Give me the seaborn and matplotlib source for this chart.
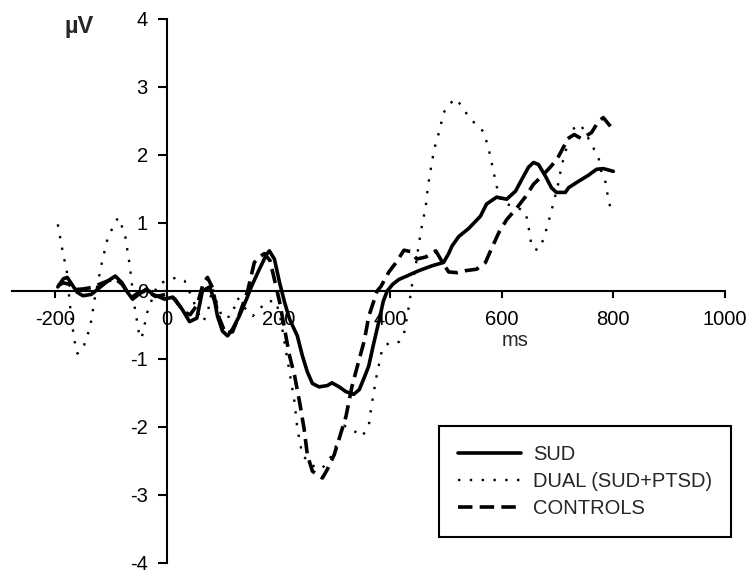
import numpy as np
import pandas as pd
import matplotlib
matplotlib.use("Agg")
import matplotlib.pyplot as plt
import seaborn as sns

# --- data (ms, µV) ---
sud_ms = [-195, -185, -178, -170, -160, -150, -135, -120, -105, -92, -80, -70, -61, -50, -36, -25, -15, -4,
          11, 27, 41, 54, 64, 77, 86, 91, 100, 109, 118, 130, 143, 152, 166, 179, 184, 193, 202, 211, 220,
          234, 243, 252, 261, 273, 288, 296, 309, 321, 335, 345, 355, 362, 370, 380, 388, 395, 405, 416,
          430, 452, 475, 496, 505, 511, 523, 541, 562, 573, 591, 609, 625, 636, 648, 657, 666, 679, 689,
          698, 714, 720, 737, 755, 770, 782, 800]
sud_uv = [0.06, 0.18, 0.2, 0.1, -0.02, -0.07, -0.05, 0.05, 0.15, 0.22, 0.12, -0.02, -0.12, -0.05, 0.03, -0.05, -0.08, -0.12,
          -0.09, -0.26, -0.45, -0.4, 0.0, 0.06, -0.15, -0.37, -0.59, -0.66, -0.56, -0.37, -0.12, 0.07, 0.32, 0.54, 0.59, 0.47, 0.13, -0.16, -0.41,
          -0.66, -0.95, -1.19, -1.36, -1.41, -1.39, -1.35, -1.41, -1.48, -1.52, -1.45, -1.25, -1.1, -0.8, -0.45, -0.15, 0.0, 0.1, 0.17,
          0.22, 0.3, 0.37, 0.42, 0.55, 0.66, 0.8, 0.92, 1.1, 1.28, 1.38, 1.35, 1.47, 1.64, 1.82, 1.89, 1.86, 1.68, 1.52,
          1.45, 1.45, 1.52, 1.61, 1.7, 1.79, 1.8, 1.76]

dual_ms = [-195, -186, -179, -173, -166, -160, -150, -137, -129, -116, -105, -87, -75, -66, -58, -50, -45, -34, -16,
           0, 18, 32, 45, 59, 66, 75, 82, 89, 100, 116, 127, 140, 154, 168, 180, 196, 205, 211, 220, 229, 234,
           243, 259, 277, 290, 300, 318, 336, 350, 362, 366, 375, 386, 400, 416, 425, 434, 439, 446, 452, 457,
           464, 468, 473, 479, 488, 496, 505, 518, 529, 541, 555, 568, 577, 583, 591, 600, 612, 630, 643, 648,
           654, 665, 675, 684, 693, 702, 707, 716, 725, 741, 752, 761, 773, 779, 786, 791, 797]
dual_uv = [0.98, 0.57, 0.3, -0.22, -0.7, -0.92, -0.85, -0.53, -0.12, 0.42, 0.8, 1.08, 0.85, 0.37, -0.2, -0.6, -0.7, -0.29, 0.1,
           0.15, 0.2, 0.15, -0.09, -0.37, -0.45, -0.25, 0.05, -0.15, -0.4, -0.37, -0.1, -0.25, -0.37, -0.25, -0.15, -0.15, -0.45, -0.75, -1.19, -1.63, -2.02,
           -2.41, -2.56, -2.62, -2.5, -2.35, -1.98, -2.06, -2.14, -1.98, -1.73, -1.29, -0.85, -0.75, -0.75, -0.63, -0.22, 0.07, 0.37, 0.71, 0.95,
           1.24, 1.54, 1.79, 2.08, 2.34, 2.62, 2.74, 2.83, 2.71, 2.56, 2.44, 2.34, 2.08, 1.85, 1.54, 1.3, 1.27, 1.22, 1.15, 0.95,
           0.64, 0.6, 0.76, 1.02, 1.3, 1.6, 1.83, 2.1, 2.37, 2.45, 2.3, 2.15, 1.98, 1.74, 1.6, 1.35, 1.15]

ctrl_ms = [-195, -185, -175, -165, -150, -135, -120, -105, -92, -80, -70, -60, -50, -36, -20, 0, 15, 30, 42, 55,
           65, 73, 82, 92, 105, 118, 130, 145, 157, 166, 175, 185, 195, 202, 211, 220, 229, 238, 246, 252, 261,
           279, 288, 300, 309, 321, 332, 345, 354, 362, 377, 384, 398, 411, 425, 437, 448, 464, 482, 492, 505,
           520, 536, 555, 571, 580, 595, 609, 625, 643, 657, 671, 688, 700, 711, 720, 730, 743, 761, 773, 782,
           795, 800]
ctrl_uv = [0.08, 0.12, 0.1, 0.02, 0.03, 0.05, 0.1, 0.15, 0.18, 0.1, -0.02, -0.08, -0.02, 0.0, -0.08, -0.05, -0.12, -0.3, -0.35, -0.2,
           0.1, 0.2, 0.05, -0.35, -0.62, -0.6, -0.35, 0.0, 0.42, 0.5, 0.55, 0.45, 0.1, -0.15, -0.55, -0.95, -1.24, -1.63, -2.02, -2.41, -2.65,
           -2.75, -2.62, -2.41, -2.17, -1.85, -1.4, -1.0, -0.73, -0.37, 0.0, 0.07, 0.28, 0.42, 0.6, 0.58, 0.47, 0.5, 0.59, 0.45, 0.28,
           0.27, 0.3, 0.32, 0.42, 0.59, 0.86, 1.05, 1.2, 1.39, 1.57, 1.68, 1.83, 1.95, 2.12, 2.25, 2.3, 2.24, 2.33, 2.49, 2.55,
           2.42, 2.38]

x_ticks = [-200, 0, 200, 400, 600, 800, 1000]
y_ticks = [-4, -3, -2, -1, 0, 1, 2, 3, 4]

sns.set_theme(style="ticks")
plt.rcParams["font.family"] = ["Liberation Sans", "DejaVu Sans"]
plt.rcParams["axes.unicode_minus"] = False

FS = 14.5
W, H = 752, 574
fig = plt.figure(figsize=(W / 100, H / 100), dpi=100)
# axes box: x from -277 ms (px 12) to 1000 ms (px 725), y from 4 (px 19) to -4 (px 563)
ax = fig.add_axes([12 / W, 1 - 563 / H, (725 - 12) / W, (563 - 19) / H])

sns.lineplot(x=sud_ms, y=sud_uv, ax=ax, color="black", lw=2.6, sort=False,
             estimator=None, label="SUD")
sns.lineplot(x=dual_ms, y=dual_uv, ax=ax, color="black", lw=1.7, sort=False,
             estimator=None, linestyle=(0, (1, 4)), label="DUAL (SUD+PTSD)")
sns.lineplot(x=ctrl_ms, y=ctrl_uv, ax=ax, color="black", lw=2.6, sort=False,
             estimator=None, linestyle=(0, (4, 2)), label="CONTROLS")

ax.set_xlim(-277, 1000)
ax.set_ylim(-4, 4)
ax.set_xticks(x_ticks)
ax.set_yticks(y_ticks)
ax.set_xlabel("")
ax.set_ylabel("")

for s in ["top", "right"]:
    ax.spines[s].set_visible(False)
ax.spines["left"].set_position(("data", 0))
ax.spines["bottom"].set_position(("data", 0))
for s in ["left", "bottom"]:
    ax.spines[s].set_linewidth(1.5)
    ax.spines[s].set_color("black")

ax.tick_params(axis="y", direction="out", length=6.5, width=1.5, pad=7,
               labelsize=FS, colors="black")
ax.tick_params(axis="x", direction="out", length=5, width=1.5, pad=9,
               labelsize=FS, colors="black")

fig.text(79 / W, 1 - 27 / H, "µV", fontsize=17, fontweight="bold",
         ha="center", va="center")
fig.text(515 / W, 1 - 340 / H, "ms", fontsize=FS, ha="center", va="center")

leg = ax.legend(loc="upper left", bbox_to_anchor=(439 / W, 1 - 426 / H),
                bbox_transform=fig.transFigure, fontsize=FS, frameon=True,
                fancybox=False, edgecolor="black", handlelength=3.1,
                handletextpad=0.6, labelspacing=0.4, borderpad=0.95,
                borderaxespad=0)
leg.get_frame().set_linewidth(1.5)
leg.get_frame().set_alpha(1)

fig.savefig("out.png", dpi=100)
plt.close(fig)
